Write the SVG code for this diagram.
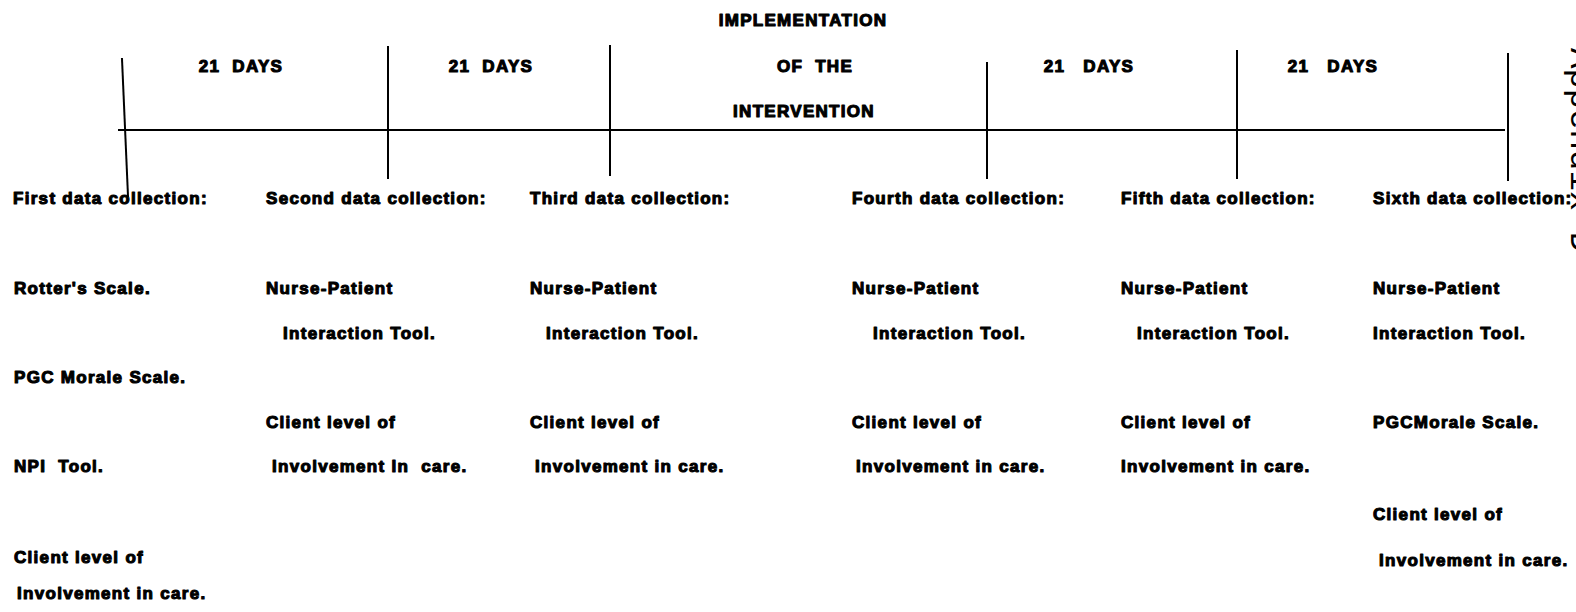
<svg xmlns="http://www.w3.org/2000/svg" width="1576" height="612" viewBox="0 0 1576 612">
<style>
.t{font-family:"Liberation Sans",Arial,Helvetica,sans-serif;font-weight:bold;font-size:17px;letter-spacing:1.3px;fill:#000;stroke:#000;stroke-width:1.1px;stroke-linejoin:round}
.c{text-anchor:middle}
.ln{stroke:#000;stroke-width:2;fill:none;stroke-linecap:square}
.side{font-family:"Liberation Mono","Courier New",monospace;font-size:34px;fill:#000}
</style>
<rect width="1576" height="612" fill="#fff"/>
<g id="timeline" class="ln">
<line x1="119" y1="130" x2="1504" y2="130"/>
<line x1="122" y1="59" x2="128" y2="196"/>
<line x1="388" y1="47" x2="388" y2="178"/>
<line x1="610" y1="46" x2="610" y2="175"/>
<line x1="987" y1="63" x2="987" y2="178"/>
<line x1="1237" y1="51" x2="1237" y2="178"/>
<line x1="1508" y1="54" x2="1508" y2="180"/>
</g>
<g id="periods">
<text class="t c" x="803" y="26">IMPLEMENTATION</text>
<text class="t c" x="241" y="72" xml:space="preserve">21  DAYS</text>
<text class="t c" x="491" y="72" xml:space="preserve">21  DAYS</text>
<text class="t c" x="815" y="72" xml:space="preserve">OF  THE</text>
<text class="t c" x="804" y="117">INTERVENTION</text>
<text class="t c" x="1089" y="72" xml:space="preserve">21   DAYS</text>
<text class="t c" x="1333" y="72" xml:space="preserve">21   DAYS</text>
</g>
<g id="first">
<text class="t" x="13" y="204">First data collection:</text>
<text class="t" x="14" y="294">Rotter's Scale.</text>
<text class="t" x="14" y="383">PGC Morale Scale.</text>
<text class="t" x="14" y="472" xml:space="preserve">NPI  Tool.</text>
<text class="t" x="14" y="563">Client level of</text>
<text class="t" x="17" y="599">Involvement in care.</text>
</g>
<g id="second">
<text class="t" x="266" y="204">Second data collection:</text>
<text class="t" x="266" y="294">Nurse-Patient</text>
<text class="t" x="283" y="339">Interaction Tool.</text>
<text class="t" x="266" y="428">Client level of</text>
<text class="t" x="272" y="472" xml:space="preserve">Involvement In  care.</text>
</g>
<g id="third">
<text class="t" x="530" y="204">Third data collection:</text>
<text class="t" x="530" y="294">Nurse-Patient</text>
<text class="t" x="546" y="339">Interaction Tool.</text>
<text class="t" x="530" y="428">Client level of</text>
<text class="t" x="535" y="472">Involvement in care.</text>
</g>
<g id="fourth">
<text class="t" x="852" y="204">Fourth data collection:</text>
<text class="t" x="852" y="294">Nurse-Patient</text>
<text class="t" x="873" y="339">Interaction Tool.</text>
<text class="t" x="852" y="428">Client level of</text>
<text class="t" x="856" y="472">Involvement in care.</text>
</g>
<g id="fifth">
<text class="t" x="1121" y="204">Fifth data collection:</text>
<text class="t" x="1121" y="294">Nurse-Patient</text>
<text class="t" x="1137" y="339">Interaction Tool.</text>
<text class="t" x="1121" y="428">Client level of</text>
<text class="t" x="1121" y="472">Involvement in care.</text>
</g>
<g id="sixth">
<text class="t" x="1373" y="204">Sixth data collection:</text>
<text class="t" x="1373" y="294">Nurse-Patient</text>
<text class="t" x="1373" y="339">Interaction Tool.</text>
<text class="t" x="1373" y="428">PGCMorale Scale.</text>
<text class="t" x="1373" y="520">Client level of</text>
<text class="t" x="1379" y="566">Involvement in care.</text>
</g>
<g id="edge">
<text class="side" transform="translate(1571,48) rotate(90)">Appendix D</text>
</g>
</svg>
